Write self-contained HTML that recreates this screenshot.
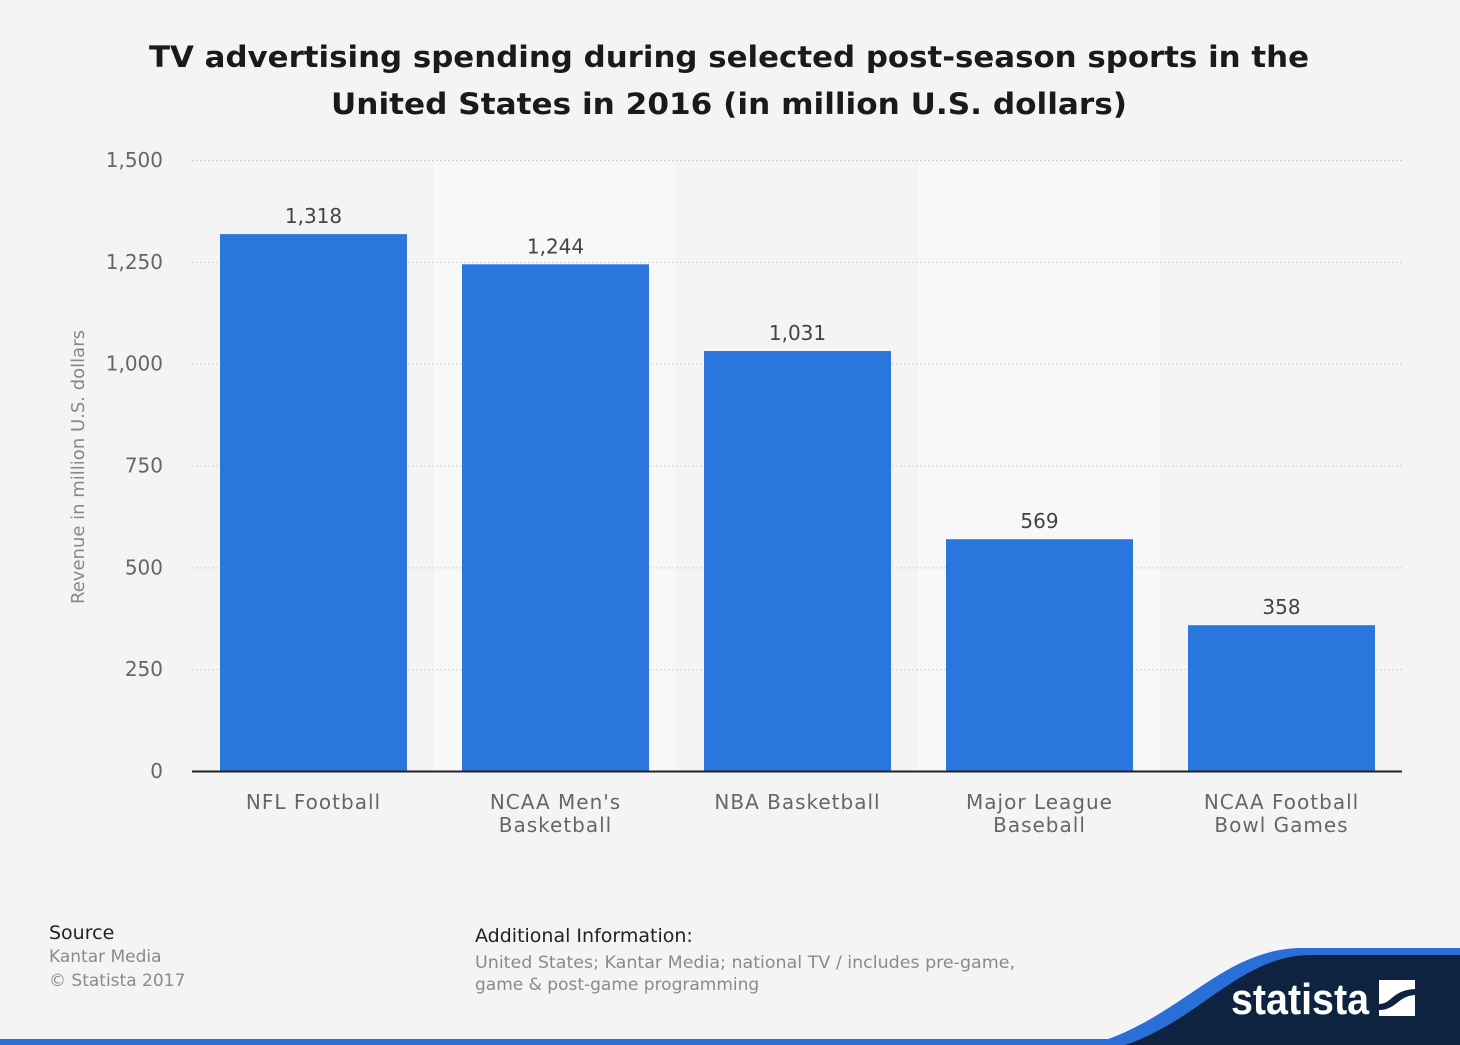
<!DOCTYPE html>
<html><head><meta charset="utf-8"><style>
html,body{margin:0;padding:0;background:#f4f4f4;}
svg{display:block;font-family:"DejaVu Sans","Liberation Sans",sans-serif;}
</style></head><body>
<svg id="chart" width="1460" height="1045" viewBox="0 0 1460 1045">
<rect width="1460" height="1045" fill="#f4f4f4"/>
<text x="729" y="67" text-anchor="middle" font-size="29" font-weight="bold" fill="#1a1a1a" textLength="1160" lengthAdjust="spacingAndGlyphs">TV advertising spending during selected post-season sports in the</text>
<text x="729" y="114" text-anchor="middle" font-size="29" font-weight="bold" fill="#1a1a1a" textLength="796" lengthAdjust="spacingAndGlyphs">United States in 2016 (in million U.S. dollars)</text>
<g id="bands"></g>
<g id="grid"></g>
<g id="bars"></g>
<line x1="192" y1="771.5" x2="1402" y2="771.5" stroke="#222" stroke-width="2"/>
<text transform="translate(84,467) rotate(-90)" text-anchor="middle" font-size="18" fill="#888">Revenue in million U.S. dollars</text>
<text x="49" y="939" font-size="19" fill="#222">Source</text>
<text x="49" y="962" font-size="17" fill="#8a8a8a">Kantar Media</text>
<text x="49" y="986" font-size="17" fill="#8a8a8a">© Statista 2017</text>
<text x="475" y="942" font-size="19" fill="#222">Additional Information:</text>
<text x="475" y="968" font-size="17" fill="#8a8a8a" textLength="540" lengthAdjust="spacingAndGlyphs">United States; Kantar Media; national TV / includes pre-game,</text>
<text x="475" y="990" font-size="17" fill="#8a8a8a">game &amp; post-game programming</text>
<g>
<rect x="0" y="1039" width="1460" height="6" fill="#2a6fd8"/>
<path d="M1090,1045 C1180,1020 1220,950 1300,948 L1460,948 L1460,1045 Z" fill="#2a6fd8"/>
<path d="M1125,1045 C1200,1020 1240,956 1310,955 L1460,955 L1460,1045 Z" fill="#0d2340"/>
<text x="1231" y="1014" font-family="'Liberation Sans Narrow','Liberation Sans',sans-serif" font-size="44" font-weight="bold" fill="#fff" textLength="138" lengthAdjust="spacingAndGlyphs">statista</text>
<rect x="1379" y="980" width="36" height="36" fill="#fff"/>
<path d="M1379,1004 C1392,1004 1392,990 1415,989 L1415,995 C1398,996 1396,1010 1379,1010 Z" fill="#0d2340"/>
</g>
</svg>
<script>
const categories = [["NFL Football"],["NCAA Men's","Basketball"],["NBA Basketball"],["Major League","Baseball"],["NCAA Football","Bowl Games"]];
const values = [1318, 1244, 1031, 569, 358];
const valueLabels = ["1,318","1,244","1,031","569","358"];
const ticks = [0, 250, 500, 750, 1000, 1250, 1500];
const tickLabels = ["0","250","500","750","1,000","1,250","1,500"];
const NS = "http://www.w3.org/2000/svg";
const x0 = 192, x1 = 1402, yBase = 771, yTop = 160, yMax = 1500;
const bandW = (x1 - x0) / categories.length;
const y = v => yBase - (v / yMax) * (yBase - yTop);
const bx = i => x0 + i * bandW;
function mk(tag, attrs, parent) { const e = document.createElementNS(NS, tag); for (const k in attrs) e.setAttribute(k, attrs[k]); parent.appendChild(e); return e; }
const bands = document.getElementById('bands'), grid = document.getElementById('grid'), bars = document.getElementById('bars');
categories.forEach((c, i) => {
  if (i % 2 === 1) {
    const r = mk('rect', {x: bx(i), y: yTop, width: bandW, height: yBase - yTop, fill: '#f8f8f8'}, bands);
    
    
  }
});
ticks.forEach((t, i) => {
  if (t > 0) {
    const l = mk('line', {x1: x0, x2: x1, y1: y(t) + 0.5, y2: y(t) + 0.5, stroke: '#c8c8c8', 'stroke-dasharray': '1.5,2.5'}, grid);
    
    
  }
  const tx = mk('text', {x: 163, y: y(t) + 7, 'text-anchor': 'end', 'font-size': 20, fill: '#666'}, grid);
  tx.textContent = tickLabels[i];
  
  
});
values.forEach((v, i) => {
  const left = bx(i) + 28, w = bandW - 55;
  const r = mk('rect', {x: left, y: y(v), width: w, height: yBase - y(v), fill: '#2a76dd'}, bars);
  
  
  const t = mk('text', {x: left + w / 2, y: y(v) - 11, 'text-anchor': 'middle', 'font-size': 20, fill: '#444'}, bars);
  t.textContent = valueLabels[i];
  
  
  categories[i].forEach((line, j) => {
    const c = mk('text', {x: left + w / 2, y: 809 + j * 23, 'text-anchor': 'middle', 'font-size': 20, 'letter-spacing': '1', fill: '#666'}, bars);
    c.textContent = line;
    
    
  });
});
</script>
</body></html>
